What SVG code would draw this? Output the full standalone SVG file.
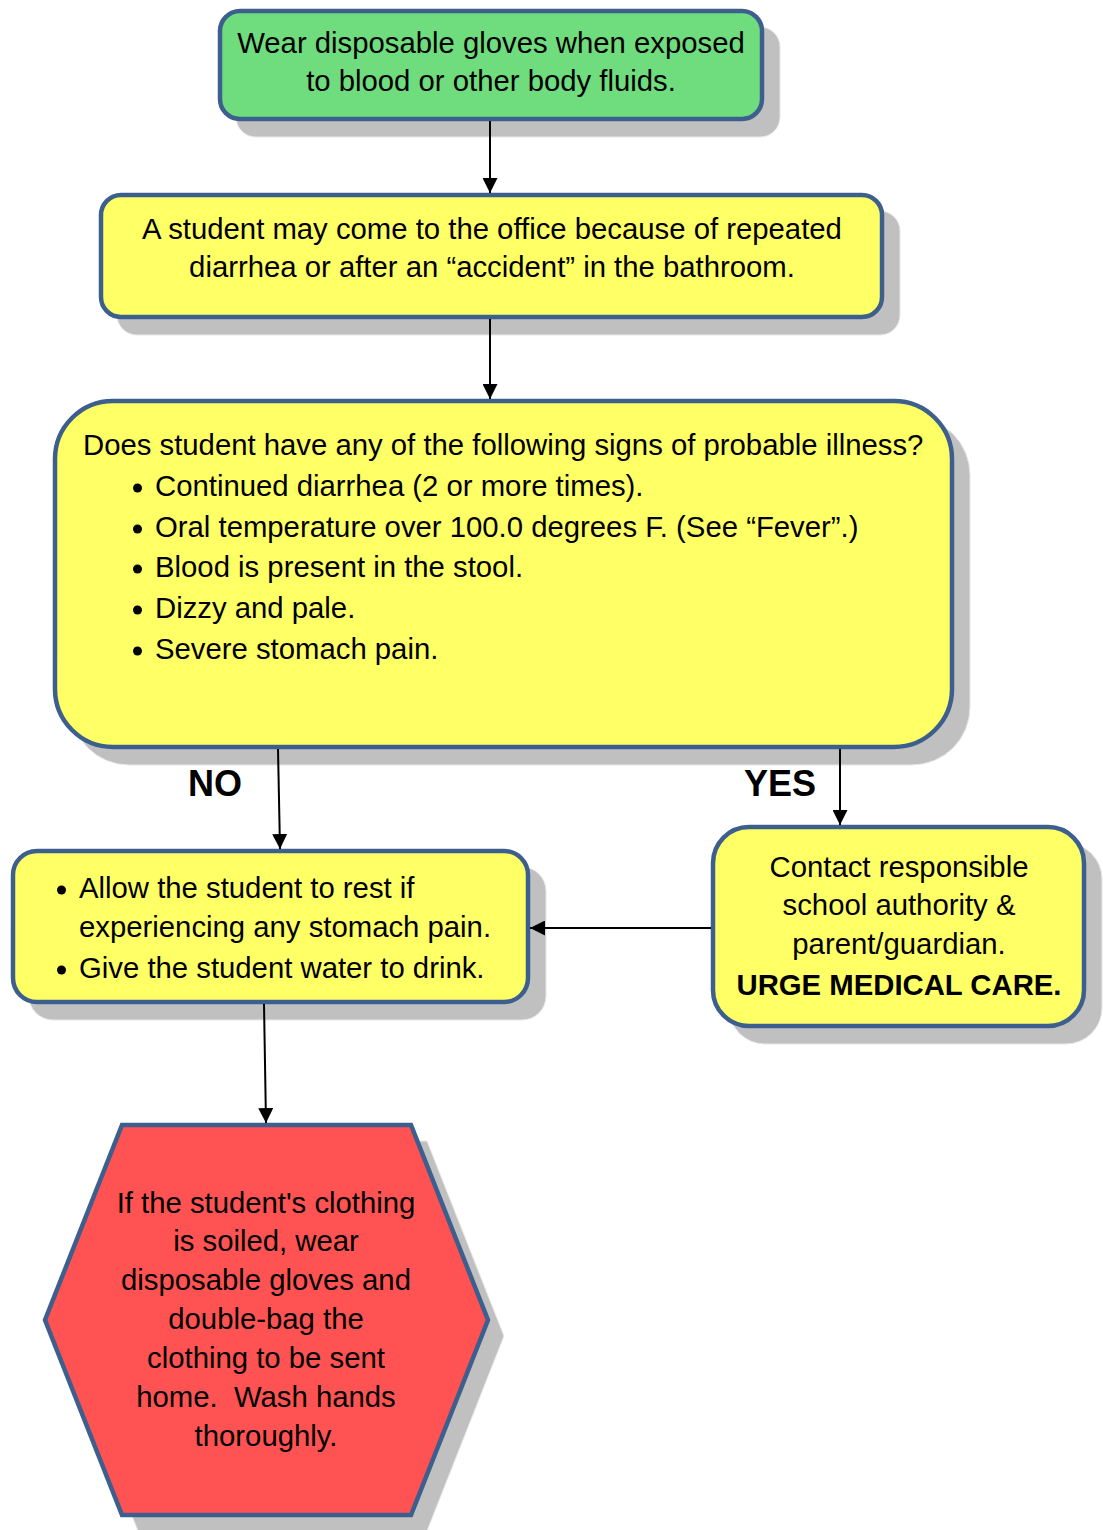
<svg xmlns="http://www.w3.org/2000/svg" width="1103" height="1530" viewBox="0 0 1103 1530">
  <style>
    .shadow { fill: #c0c0c0; stroke: #e8e8e8; stroke-width: 1; }
    .node { stroke: #3c5f8e; stroke-width: 4.5; }
    .green { fill: #6fdc7e; }
    .yellow { fill: #ffff66; }
    .red { fill: #ff5252; }
    text { font-family: "Liberation Sans", Arial, sans-serif; font-size: 29.3px; fill: #000; }
    .c { text-anchor: middle; }
    .b { font-weight: bold; }
    .lbl { font-weight: bold; font-size: 36px; }
    .conn { stroke: #000; stroke-width: 2; fill: none; marker-end: url(#arrow); }
  </style>
  <defs>
    <marker id="arrow" markerWidth="15" markerHeight="15" refX="15" refY="7.5" orient="auto" markerUnits="userSpaceOnUse">
      <path d="M0,0 L15,7.5 L0,15 Z" fill="#000"/>
    </marker>
  </defs>
  <rect width="1103" height="1530" fill="#fff"/>

  <!-- Start: gloves -->
  <g id="node-gloves">
    <rect class="shadow" x="236" y="27" width="544" height="110" rx="20"/>
    <rect class="node green" x="220" y="11" width="542" height="108" rx="20"/>
    <text class="c" x="491" y="53">Wear disposable gloves when exposed</text>
    <text class="c" x="491" y="91">to blood or other body fluids.</text>
  </g>

  <!-- Student arrives -->
  <g id="node-arrival">
    <rect class="shadow" x="117" y="211" width="783" height="124" rx="20"/>
    <rect class="node yellow" x="101" y="195" width="781" height="122" rx="20"/>
    <text class="c" x="492" y="239">A student may come to the office because of repeated</text>
    <text class="c" x="492" y="277">diarrhea or after an “accident” in the bathroom.</text>
  </g>

  <!-- Decision: signs of illness -->
  <g id="node-signs">
    <rect class="shadow" x="71" y="417" width="899" height="348" rx="58"/>
    <rect class="node yellow" x="55" y="401" width="897" height="346" rx="58"/>
    <text x="83" y="455">Does student have any of the following signs of probable illness?</text>
    <g fill="#000">
      <circle cx="137.5" cy="488" r="4.5"/>
      <circle cx="137.5" cy="529" r="4.5"/>
      <circle cx="137.5" cy="569" r="4.5"/>
      <circle cx="137.5" cy="610" r="4.5"/>
      <circle cx="137.5" cy="651" r="4.5"/>
    </g>
    <text x="155" y="496">Continued diarrhea (2 or more times).</text>
    <text x="155" y="537">Oral temperature over 100.0 degrees F. (See “Fever”.)</text>
    <text x="155" y="577">Blood is present in the stool.</text>
    <text x="155" y="618">Dizzy and pale.</text>
    <text x="155" y="659">Severe stomach pain.</text>
  </g>

  <!-- NO branch -->
  <g id="node-rest">
    <rect class="shadow" x="29" y="867" width="517" height="153" rx="24"/>
    <rect class="node yellow" x="13" y="851" width="515" height="151" rx="24"/>
    <g fill="#000">
      <circle cx="61.5" cy="890" r="4.5"/>
      <circle cx="61.5" cy="970" r="4.5"/>
    </g>
    <text x="79" y="898">Allow the student to rest if</text>
    <text x="79" y="937">experiencing any stomach pain.</text>
    <text x="79" y="978">Give the student water to drink.</text>
  </g>

  <!-- YES branch -->
  <g id="node-contact">
    <rect class="shadow" x="729" y="843" width="373" height="201" rx="36"/>
    <rect class="node yellow" x="713" y="827" width="371" height="199" rx="36"/>
    <text class="c" x="899" y="877">Contact responsible</text>
    <text class="c" x="899" y="915">school authority &amp;</text>
    <text class="c" x="899" y="954">parent/guardian.</text>
    <text class="c b" x="899" y="995">URGE MEDICAL CARE.</text>
  </g>

  <!-- Soiled clothing -->
  <g id="node-clothing">
    <polygon class="shadow" points="138,1141 427,1141 504,1336 427,1531 138,1531 61,1336"/>
    <polygon class="node red" points="122,1125 411,1125 488,1320 411,1515 122,1515 45,1320"/>
    <text class="c" x="266" y="1213">If the student's clothing</text>
    <text class="c" x="266" y="1251">is soiled, wear</text>
    <text class="c" x="266" y="1290">disposable gloves and</text>
    <text class="c" x="266" y="1329">double-bag the</text>
    <text class="c" x="266" y="1368">clothing to be sent</text>
    <text class="c" x="266" y="1407" xml:space="preserve">home.  Wash hands</text>
    <text class="c" x="266" y="1446">thoroughly.</text>
  </g>

  <!-- Connectors -->
  <g id="connectors">
    <line class="conn" x1="490" y1="121" x2="490" y2="193"/>
    <line class="conn" x1="490" y1="319" x2="490" y2="399"/>
    <line class="conn" x1="278" y1="749" x2="280" y2="849"/>
    <line class="conn" x1="840" y1="749" x2="840" y2="825"/>
    <line class="conn" x1="711" y1="928" x2="530" y2="928"/>
    <line class="conn" x1="264" y1="1004" x2="266" y2="1123"/>
    <text class="lbl" x="188" y="796">NO</text>
    <text class="lbl" x="744" y="796">YES</text>
  </g>
</svg>
